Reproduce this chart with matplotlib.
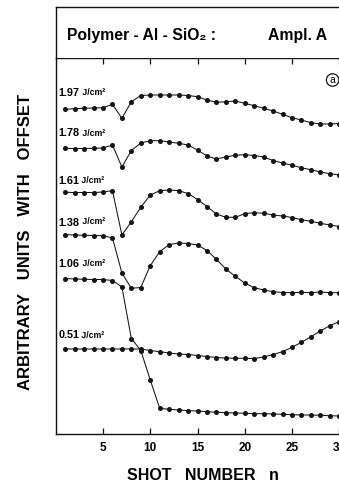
import matplotlib
matplotlib.use("Agg")
import matplotlib.pyplot as plt
import numpy as np

plt.rcParams['font.family'] = ['Liberation Sans', 'DejaVu Sans']

shots = list(range(1, 31))
fluences = ["1.97", "1.78", "1.61", "1.38", "1.06", "0.51"]

s197 = [324.7, 325.3, 325.7, 326, 326.3, 329.7, 315.7, 332.3, 338.5, 339, 339, 339, 339, 338.5, 337.3,
        334, 331.7, 332.3, 333, 330.7, 328.3, 325.7, 323, 319.7, 316.3, 314, 311.3, 310, 310, 310.5]
s178 = [285.7, 285.5, 285.5, 285.7, 286, 289, 267, 283.5, 291, 293.3, 293.3, 292, 290.7, 289, 284,
        278, 275, 277, 278.8, 279.3, 278.5, 277, 273.5, 271, 268.7, 266.2, 264.3, 262, 260.3, 259]
s161 = [241.7, 241.5, 241.5, 241.5, 242, 243.3, 199, 212.3, 226.7, 239, 243.3, 244, 243.3, 240.5, 234.5,
        227.5, 220, 216.7, 216.7, 220.3, 221.3, 220.7, 219, 218, 216.5, 214.3, 212.7, 210.7, 209, 207.5]
s138 = [199.5, 199, 198.7, 198.5, 198.3, 196.2, 161, 145.7, 146.5, 168.3, 182.3, 189.3, 191, 190.5, 189,
        183.5, 174.7, 165, 157.7, 151, 146.3, 144, 142.3, 141.5, 141.3, 141.7, 141.3, 142, 141.3, 141.3]
s106 = [155.5, 155, 154.7, 154.5, 154.5, 153.5, 147, 95.5, 83.5, 54, 25.7, 24.7, 24, 23.3, 23,
        22.3, 21.7, 21.3, 21, 20.7, 20.3, 20.3, 20, 19.7, 19.3, 19, 19, 18.7, 18.3, 18]
s051 = [85, 85, 85, 85, 85, 85, 85, 85, 85, 83.5, 82.3, 81, 80, 79.5, 78.5,
        77.5, 76.5, 76, 75.7, 75.7, 75.5, 77, 79.5, 82.3, 86.7, 91.7, 97.3, 103, 108.3, 112.5]
series = [s197, s178, s161, s138, s106, s051]

label_y = [341, 300.5, 253, 211.5, 170, 98.5]
xticks = [5, 10, 15, 20, 25, 30]

W, H = 339, 487
fig = plt.figure(figsize=(W / 100, H / 100), dpi=100)
x0 = 55.75
ppu = 9.45
xmax = 31
ax = fig.add_axes([x0 / W, 53 / H, xmax * ppu / W, 376 / H])
ax.set_xlim(0, xmax)
ax.set_ylim(0, 376)

for vals in series:
    ax.plot(shots, vals, color='#151515', lw=0.75, marker='o', ms=2.6, mfc='#151515', mec='#151515')

for f, ly in zip(fluences, label_y):
    t = ax.text(0.3, ly, f, fontsize=7.8, fontweight='bold', va='center', ha='left')
    ax.annotate(" J/cm²", xy=(1, 0.1), xycoords=t, fontsize=6.3, fontweight='bold', va='bottom', ha='left')

ax.text(29.3, 354, "a", fontsize=7.5, ha='center', va='center',
        bbox=dict(boxstyle='circle,pad=0.12', fc='white', ec='#111111', lw=0.9))

for s in ['left', 'bottom', 'top', 'right']:
    ax.spines[s].set_linewidth(1.0)
    ax.spines[s].set_color('#111111')
ax.set_yticks([])
ax.set_xticks(xticks)
ax.set_xticklabels([str(v) for v in xticks], fontsize=8.5, fontweight='bold')
ax.tick_params(axis='x', which='both', direction='in', top=True, bottom=True, length=4.5,
               width=0.9, pad=6, color='#111111')

hx = fig.add_axes([x0 / W, (H - 58) / H, xmax * ppu / W, 51 / H])
hx.set_xticks([])
hx.set_yticks([])
hx.spines['bottom'].set_visible(False)
for s in ['left', 'top', 'right']:
    hx.spines[s].set_linewidth(1.0)
    hx.spines[s].set_color('#111111')
hx.text((67 - x0) / (xmax * ppu), 0.45, "Polymer - Al - SiO₂ :", fontsize=11.3, fontweight='bold',
        va='center', ha='left', transform=hx.transAxes)
hx.text((268 - x0) / (xmax * ppu), 0.45, "Ampl. A", fontsize=11.3, fontweight='bold',
        va='center', ha='left', transform=hx.transAxes)

fig.text(26 / W, 1 - 242 / H, "ARBITRARY   UNITS   WITH   OFFSET", rotation=90, fontsize=12,
         fontweight='bold', ha='center', va='center')
fig.text(203 / W, 1 - 475 / H, "SHOT   NUMBER   n", fontsize=11.5, fontweight='bold',
         ha='center', va='center')

fig.savefig("out.png", dpi=100)
